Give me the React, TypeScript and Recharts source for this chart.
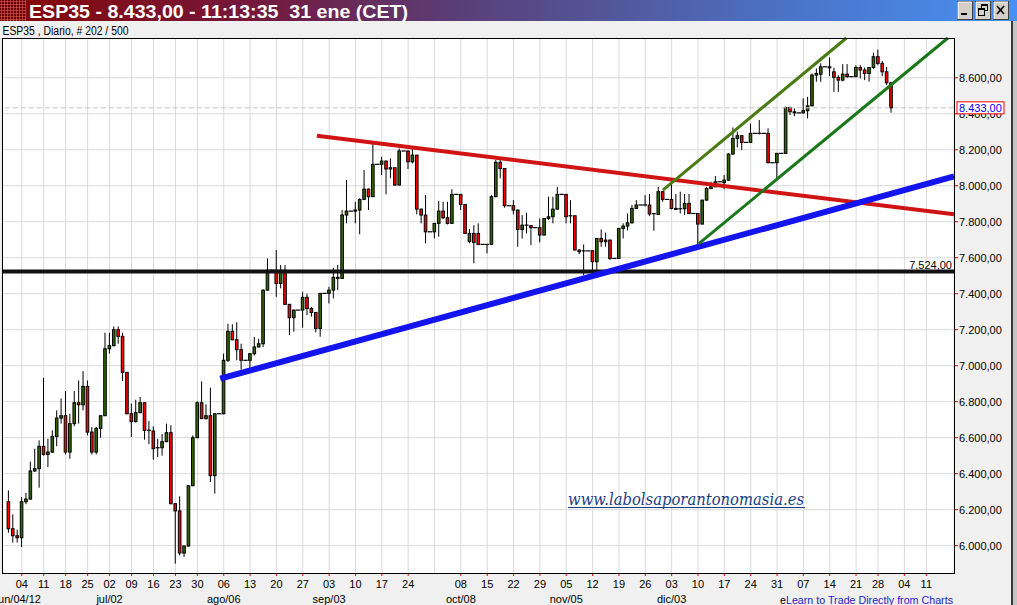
import { ComposedChart, Bar, XAxis, YAxis, CartesianGrid, ReferenceLine } from 'recharts';

// IBEX (ESP35) daily candles, 30 may 2012 .. 31 ene 2013 (flat bars are the feed's sunday bars)
const opens = [
  6244, 6094, 6055, 6044, 6244, 6259, 6415, 6428, 6552, 6507,
  6520, 6607, 6709, 6722, 6520, 6678, 6794, 6783, 6885, 6631,
  6520, 6652, 6722, 7094, 7111, 7200, 7163, 6963, 6733, 6689,
  6739, 6794, 6641, 6637, 6539, 6544, 6578, 6628, 6233, 6193,
  5959, 5998, 6333, 6600, 6794, 6706, 6722, 6389, 6733, 6733,
  7030, 7191, 7144, 7089, 7030, 7030, 7067, 7104, 7122, 7420,
  7531, 7531, 7457, 7531, 7341, 7267, 7309, 7309, 7380, 7318,
  7296, 7207, 7402, 7402, 7420, 7491, 7485, 7837, 7859, 7859,
  7865, 7924, 7981, 7939, 8119, 8119, 8137, 8093, 8100, 8004,
  8193, 8193, 8133, 8170, 7870, 7837, 7744, 7744, 7791, 7859,
  7822, 7791, 7952, 7952, 7896, 7690, 7735, 7735, 7674, 7674,
  7674, 7939, 8130, 8096, 7889, 7889, 7865, 7757, 7781, 7778,
  7767, 7767, 7726, 7818, 7828, 7870, 7952, 7952, 7833, 7833,
  7643, 7633, 7638, 7639, 7578, 7707, 7689, 7698, 7596, 7596,
  7763, 7776, 7794, 7874, 7893, 7893, 7893, 7843, 7840, 7967,
  7924, 7924, 7874, 7868, 7872, 7902, 7846, 7846, 7787, 7920,
  7985, 7994, 8022, 8017, 8031, 8176, 8263, 8278, 8241, 8241,
  8291, 8291, 8291, 8291, 8128, 8128, 8180, 8180, 8435, 8411,
  8405, 8405, 8417, 8444, 8615, 8620, 8661, 8661, 8633, 8602,
  8587, 8620, 8606, 8606, 8657, 8643, 8624, 8657, 8717, 8680,
  8633, 8572,
];
const highs = [
  6307, 6174, 6089, 6270, 6293, 6467, 6539, 6585, 6933, 6594,
  6641, 6752, 6818, 6859, 6733, 6859, 6918, 6970, 6918, 6659,
  6659, 6722, 7183, 7183, 7218, 7218, 7183, 6965, 6789, 6811,
  6826, 6796, 6693, 6663, 6594, 6620, 6678, 6669, 6236, 6274,
  6000, 6336, 6613, 6802, 6913, 6785, 6878, 6736, 6733, 7067,
  7233, 7230, 7241, 7122, 7030, 7070, 7159, 7150, 7425, 7596,
  7531, 7643, 7559, 7559, 7343, 7312, 7309, 7411, 7400, 7327,
  7298, 7404, 7402, 7439, 7544, 7559, 7865, 8031, 7859, 7911,
  7930, 8087, 7985, 8235, 8119, 8161, 8140, 8152, 8102, 8207,
  8193, 8195, 8207, 8172, 7872, 7948, 7744, 7793, 7915, 7911,
  7911, 7981, 7952, 7954, 7898, 7760, 7781, 7791, 7674, 7676,
  7948, 8143, 8143, 8098, 7889, 7920, 7867, 7837, 7850, 7781,
  7767, 7818, 7820, 7939, 7939, 7994, 7952, 7954, 7920, 7835,
  7645, 7674, 7638, 7643, 7710, 7757, 7740, 7700, 7596, 7765,
  7791, 7846, 7893, 7920, 7893, 7948, 7954, 7848, 7994, 7969,
  7924, 8013, 7954, 7967, 7954, 7954, 7846, 7848, 7922, 7994,
  8022, 8054, 8022, 8059, 8180, 8324, 8300, 8280, 8241, 8346,
  8291, 8365, 8291, 8319, 8128, 8182, 8180, 8439, 8439, 8430,
  8405, 8485, 8494, 8624, 8652, 8680, 8661, 8713, 8655, 8615,
  8676, 8676, 8606, 8670, 8670, 8657, 8659, 8739, 8757, 8694,
  8660, 8578,
];
const lows = [
  6072, 6017, 6017, 5992, 6230, 6255, 6410, 6322, 6500, 6437,
  6515, 6552, 6678, 6507, 6483, 6663, 6678, 6752, 6613, 6507,
  6507, 6600, 6720, 7067, 7108, 7122, 6915, 6730, 6604, 6685,
  6735, 6589, 6563, 6478, 6493, 6500, 6575, 6230, 5900, 5946,
  5937, 5995, 6330, 6598, 6703, 6700, 6354, 6289, 6733, 6730,
  7020, 7141, 7030, 6978, 7030, 6978, 7057, 7102, 7104, 7418,
  7531, 7383, 7430, 7338, 7170, 7189, 7309, 7211, 7281, 7272,
  7185, 7161, 7402, 7346, 7374, 7420, 7483, 7791, 7859, 7791,
  7730, 7920, 7865, 7937, 8119, 8059, 7952, 8041, 8000, 8002,
  8193, 8093, 8124, 7841, 7791, 7680, 7744, 7707, 7717, 7815,
  7785, 7789, 7952, 7865, 7733, 7680, 7569, 7670, 7674, 7624,
  7672, 7937, 8041, 7878, 7889, 7841, 7661, 7707, 7735, 7670,
  7767, 7685, 7724, 7810, 7791, 7868, 7952, 7791, 7791, 7640,
  7620, 7504, 7638, 7531, 7500, 7661, 7661, 7587, 7596, 7594,
  7707, 7752, 7790, 7870, 7893, 7885, 7831, 7750, 7838, 7911,
  7924, 7868, 7866, 7846, 7837, 7844, 7846, 7676, 7785, 7918,
  7980, 7992, 8022, 7980, 8029, 8174, 8213, 8198, 8241, 8239,
  8291, 8285, 8291, 8124, 8128, 8041, 8180, 8178, 8393, 8387,
  8405, 8400, 8374, 8442, 8578, 8578, 8661, 8609, 8522, 8522,
  8580, 8600, 8606, 8604, 8596, 8587, 8578, 8650, 8670, 8609,
  8559, 8406,
];
const closes = [
  6094, 6055, 6044, 6244, 6259, 6415, 6428, 6552, 6507, 6520,
  6607, 6709, 6722, 6520, 6678, 6794, 6783, 6885, 6631, 6520,
  6652, 6722, 7094, 7111, 7200, 7163, 6963, 6733, 6689, 6739,
  6794, 6641, 6637, 6539, 6544, 6578, 6628, 6233, 6193, 5959,
  5998, 6333, 6600, 6794, 6706, 6722, 6389, 6733, 6733, 7030,
  7191, 7144, 7089, 7030, 7030, 7067, 7104, 7122, 7420, 7531,
  7531, 7457, 7531, 7341, 7267, 7309, 7309, 7380, 7318, 7296,
  7207, 7402, 7402, 7420, 7491, 7485, 7837, 7859, 7859, 7865,
  7924, 7981, 7939, 8119, 8119, 8137, 8093, 8100, 8004, 8193,
  8193, 8133, 8170, 7870, 7837, 7744, 7744, 7791, 7859, 7822,
  7791, 7952, 7952, 7896, 7735, 7735, 7685, 7674, 7674, 7674,
  7939, 8130, 8096, 7889, 7889, 7865, 7757, 7781, 7778, 7767,
  7767, 7726, 7818, 7828, 7870, 7952, 7952, 7828, 7828, 7643,
  7633, 7638, 7638, 7578, 7707, 7689, 7698, 7596, 7596, 7763,
  7776, 7794, 7874, 7893, 7893, 7890, 7843, 7845, 7967, 7924,
  7924, 7874, 7868, 7872, 7902, 7846, 7846, 7787, 7920, 7985,
  7994, 8022, 8022, 8031, 8176, 8263, 8278, 8241, 8241, 8291,
  8291, 8291, 8291, 8128, 8128, 8180, 8180, 8435, 8411, 8405,
  8405, 8417, 8444, 8615, 8624, 8661, 8661, 8655, 8602, 8587,
  8620, 8606, 8606, 8657, 8643, 8624, 8657, 8717, 8680, 8633,
  8572, 8433,
];

// x axis: bar index of each weekly tick, its day label and the month row
const tickIdx = [3, 8, 13, 18, 23, 28, 33, 38, 43, 49, 55, 61, 67, 73, 79, 85, 91, 97, 103, 109, 115, 121, 127, 133, 139, 145, 151, 157, 163, 169, 175, 181, 187, 193, 198, 204, 209];
const dayLabels = ['04', '11', '18', '25', '02', '09', '16', '23', '30', '06', '13', '20', '27', '03', '10', '17', '24', '', '08', '15', '22', '29', '05', '12', '19', '26', '03', '10', '17', '24', '31', '07', '14', '21', '28', '04', '11'];
const monthLabels: Record<number, string> = { 3: 'jun/04/12', 23: 'jul/02', 49: 'ago/06', 73: 'sep/03', 103: 'oct/08', 127: 'nov/05', 151: 'dic/03' };
const priceTicks = [6000, 6200, 6400, 6600, 6800, 7000, 7200, 7400, 7600, 7800, 8000, 8200, 8400, 8600];

// hand drawn lines: [from index, from value, to index, to value]
const resistance = [70.2, 8278, 215.3, 7841];
const support = [48.2, 6928, 215.3, 8052];
const channelTop = [149, 7976, 190.8, 8821];
const channelBottom = [157.2, 7678, 213.9, 8821];
const level = 7524;
const lastPrice = 8433;

const data = opens.map((o, i) => ({ i, o, h: highs[i], l: lows[i], c: closes[i], range: [lows[i], highs[i]] }));

const fmt = (v: number) => `${Math.floor(v / 1000)}.${String(Math.round(v % 1000)).padStart(3, '0')},00`;

const Candle = (props: any) => {
  const { x, y, width, height, payload } = props;
  const cx = x + width / 2;
  const top = Math.min(y, y + height);
  const bot = Math.max(y, y + height);
  const { o, h, l, c } = payload;
  const span = h - l;
  if (span === 0) {
    return <line x1={cx - 2.2} x2={cx + 2.2} y1={top} y2={top} stroke="#000" strokeWidth={1.2} />;
  }
  const py = (v: number) => top + ((h - v) / span) * (bot - top);
  const bTop = py(Math.max(o, c));
  const bBot = py(Math.min(o, c));
  return (
    <g>
      <line x1={cx} x2={cx} y1={top} y2={bot} stroke="#000" strokeWidth={1} />
      {bBot - bTop < 1 ? (
        <line x1={cx - 2} x2={cx + 2} y1={bTop} y2={bTop} stroke="#000" strokeWidth={1.2} />
      ) : (
        <rect x={cx - 1.3} y={bTop} width={2.6} height={bBot - bTop} fill={c >= o ? '#336600' : '#ff0000'} stroke="#000" strokeWidth={1} />
      )}
    </g>
  );
};

const DayTick = (props: any) => {
  const { x, y, payload } = props;
  const k = tickIdx.indexOf(payload.value);
  const day = dayLabels[k];
  const month = monthLabels[payload.value];
  // the first month label hangs off the left edge of the window
  const mx = k === 0 ? x - 3.5 : x;
  return (
    <g>
      {day && <line x1={x} x2={x} y1={y} y2={y + 3} stroke="#e00000" />}
      {day && (
        <text x={x} y={y + 14.5} textAnchor="middle" fontSize={11} fill="#000">
          {day}
        </text>
      )}
      {month && (
        <text x={mx} y={y + 29.5} textAnchor="middle" fontSize={11} fill="#000">
          {month}
        </text>
      )}
    </g>
  );
};

// the last price rides on the axis as its final tick so its box covers the 8.400 label
const PriceTick = (props: any) => {
  const { x, y, payload } = props;
  if (payload.value === lastPrice) {
    return (
      <g>
        <rect x={x + 3} y={y - 6} width={47} height={12} fill="#fff" stroke="#ff0000" strokeWidth={1} />
        <text x={x + 5} y={y + 4} fontSize={11} fill="#0000ff">
          {fmt(lastPrice)}
        </text>
      </g>
    );
  }
  return (
    <g>
      <line x1={x} x2={x + 4} y1={y} y2={y} stroke="#e00000" />
      <text x={x + 5} y={y + 4} fontSize={11} fill="#000">
        {fmt(payload.value)}
      </text>
    </g>
  );
};

const LevelTag = (props: any) => {
  const { viewBox } = props;
  return (
    <text x={viewBox.x + viewBox.width - 2} y={viewBox.y - 2.5} textAnchor="end" fontSize={11} fill="#000">
      {fmt(level)}
    </text>
  );
};

const seg = (s: number[]) => [
  { x: s[0], y: s[1] },
  { x: s[2], y: s[3] },
];

const btn = (left: number, icon: any) => (
  <svg style={{ position: 'absolute', left, top: 1 }} width={16} height={19}>
    <rect x={0.5} y={0.5} width={15} height={18} fill="#d4d0c8" stroke="#404040" />
    <line x1={1} y1={1} x2={15} y2={1} stroke="#fff" />
    <line x1={1} y1={1} x2={1} y2={18} stroke="#fff" />
    {icon}
  </svg>
);

export default function App() {
  return (
    <div
      style={{
        position: 'absolute',
        left: 0,
        top: 0,
        width: 1017,
        height: 605,
        background: '#f0f0f0',
        overflow: 'hidden',
        fontFamily: '"Liberation Sans", Arial, sans-serif',
      }}
    >
      <div style={{ position: 'absolute', left: 0, top: 0 }}>
        <ComposedChart width={1017} height={605} data={data} margin={{ top: 38, right: 0, bottom: 0, left: 2 }}>
          <CartesianGrid stroke="#dadada" fill="#fff" horizontalValues={priceTicks} />
          <XAxis
            dataKey="i"
            type="number"
            domain={[-1.5, 215.3]}
            ticks={tickIdx}
            interval={0}
            tick={<DayTick />}
            tickLine={false}
            axisLine={false}
            tickSize={0}
            tickMargin={0}
            height={32}
            allowDataOverflow
          />
          <YAxis
            orientation="right"
            type="number"
            domain={[5848, 8821]}
            ticks={[...priceTicks, lastPrice]}
            interval={0}
            tick={<PriceTick />}
            tickLine={false}
            axisLine={false}
            tickSize={0}
            tickMargin={0}
            width={63}
            allowDataOverflow
          />
          <ReferenceLine y={lastPrice} stroke="#c4c4c4" strokeDasharray="5 3" />
          <Bar dataKey="range" shape={<Candle />} barSize={4} isAnimationActive={false} />
          <ReferenceLine y={level} stroke="#111" strokeWidth={4} label={LevelTag} />
          <ReferenceLine segment={seg(resistance)} stroke="#d01414" strokeWidth={4} ifOverflow="visible" />
          <ReferenceLine segment={seg(support)} stroke="#1414f0" strokeWidth={6} ifOverflow="visible" />
          <ReferenceLine segment={seg(channelTop)} stroke="#4a7a14" strokeWidth={3} ifOverflow="visible" />
          <ReferenceLine segment={seg(channelBottom)} stroke="#1a781a" strokeWidth={3} ifOverflow="visible" />
        </ComposedChart>
      </div>

      {/* plot frame */}
      <div
        style={{
          position: 'absolute',
          left: 2,
          top: 38,
          width: 953,
          height: 536,
          border: '1px solid #000',
          boxSizing: 'border-box',
          pointerEvents: 'none',
        }}
      />

      {/* title bar */}
      <div
        style={{
          position: 'absolute',
          left: 0,
          top: 0,
          width: 1017,
          height: 21,
          background: 'linear-gradient(90deg, #860606 0%, #74183c 25%, #5a3e78 45%, #52579a 60%, #4a74c8 78%, #4a90f2 100%)',
        }}
      />
      <div
        style={{
          position: 'absolute',
          left: 0,
          top: 0,
          width: 26,
          height: 21,
          background: 'radial-gradient(circle, #d05050 0.9px, transparent 1.2px) 0 0 / 3px 3px, #6a0000',
        }}
      />
      <svg style={{ position: 'absolute', left: 0, top: 0 }} width={1017} height={40}>
        <text x={29} y={17.5} fontSize={19} fontWeight="bold" fill="#fff" textLength={379} lengthAdjust="spacingAndGlyphs" style={{ whiteSpace: 'pre' }}>
          ESP35 - 8.433,00 - 11:13:35  31 ene (CET)
        </text>
        <text x={2.5} y={35} fontSize={12} fill="#000" textLength={126} lengthAdjust="spacingAndGlyphs">
          ESP35 , Diario, # 202 / 500
        </text>
      </svg>
      {btn(957, <rect x={4} y={12} width={6} height={2} fill="#000" />)}
      {btn(975, (
        <g fill="none" stroke="#000">
          <rect x={6.5} y={3.5} width={6} height={6} />
          <line x1={6.5} y1={4.5} x2={12.5} y2={4.5} />
          <rect x={3.5} y={7.5} width={6} height={7} fill="#d4d0c8" />
          <line x1={3.5} y1={8.5} x2={9.5} y2={8.5} />
        </g>
      ))}
      {btn(993, (
        <g stroke="#000" strokeWidth={1.6}>
          <line x1={4} y1={5} x2={11} y2={13} />
          <line x1={11} y1={5} x2={4} y2={13} />
        </g>
      ))}

      {/* window frame on the right */}
      <div style={{ position: 'absolute', left: 1011, top: 21, width: 6, height: 584, background: 'linear-gradient(90deg, #3a3a3a 0 2px, #c4c4c4 2px 100%)' }} />

      {/* watermark */}
      <svg style={{ position: 'absolute', left: 566, top: 486 }} width={256} height={26}>
        <text x={2} y={19} fontSize={17} fontStyle="italic" fontFamily='"DejaVu Serif", serif' fill="#1c3d84" textLength={236} lengthAdjust="spacingAndGlyphs">
          www.labolsaporantonomasia.es
        </text>
        <line x1={2} x2={239} y1={21.5} y2={21.5} stroke="#1c3d84" strokeWidth={1} />
      </svg>

      <svg style={{ position: 'absolute', left: 0, top: 590 }} width={1017} height={15}>
        <text x={780} y={13.5} fontSize={11.5} fontFamily='"Liberation Sans Narrow", "Liberation Sans", sans-serif' textLength={173} lengthAdjust="spacingAndGlyphs">
          <tspan fill="#000">e</tspan>
          <tspan fill="#2323c8">Learn to Trade Directly from Charts</tspan>
        </text>
      </svg>
    </div>
  );
}
